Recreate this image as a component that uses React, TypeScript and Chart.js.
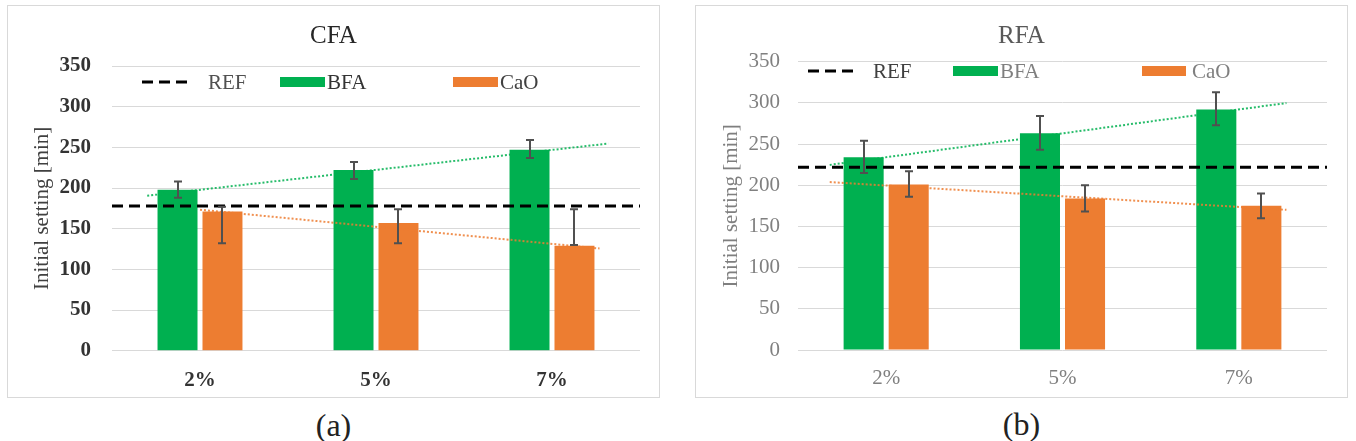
import React, { useEffect, useRef } from "react";
import { Chart, registerables } from "chart.js";

Chart.register(...registerables);

// ---------- data ----------
const categories = ["2%", "5%", "7%"];
const yTickMin = 0;
const yTickMax = 350;
const yTickStep = 50;

const cfaTitle = "CFA";
const cfaREF = 178;
const cfaBFA = [198, 222, 247];
const cfaBFALow = [188, 211, 237];
const cfaBFAHigh = [208, 232, 259];
const cfaCaO = [171, 157, 129];
const cfaCaOLow = [132, 132, 130];
const cfaCaOHigh = [177, 174, 174];

const rfaTitle = "RFA";
const rfaREF = 222;
const rfaBFA = [234, 263, 292];
const rfaBFALow = [215, 243, 273];
const rfaBFAHigh = [254, 284, 313];
const rfaCaO = [201, 184, 175];
const rfaCaOLow = [186, 168, 160];
const rfaCaOHigh = [217, 200, 190];

const legendLabels = ["REF", "BFA", "CaO"];
const yTitle = "Initial setting [min]";

// ---------- style ----------
const SERIF = "'Liberation Serif', 'Times New Roman', serif";
const GREEN = "#00B050";
const ORANGE = "#ED7D31";

type PanelCfg = {
  title: string;
  ref: number;
  bfa: number[];
  bfaLow: number[];
  bfaHigh: number[];
  cao: number[];
  caoLow: number[];
  caoHigh: number[];
  tickColor: string;
  tickWeight: string;
  titleColor: string;
  yTitleColor: string;
  legendColors: string[];
  plotLeft: number;
  plotRight: number;
  plotTop: number;
  plotBottom: number;
  tickPad: number;
  xTickPad: number;
  yTitlePad: number;
  titleY: number;
  legendY: number;
  legendRef: [number, number];
  refTextX: number;
  bfaBox: [number, number];
  bfaTextX: number;
  caoBox: [number, number];
  caoTextX: number;
  trendBFA: [number, number];
  trendCaO: [number, number];
};

const W = 651;
const H = 391;

function makeOverlay(cfg: PanelCfg) {
  return {
    id: "overlay",
    afterDatasetsDraw(chart: any) {
      const ctx: CanvasRenderingContext2D = chart.ctx;
      const xs = chart.scales.x;
      const ys = chart.scales.y;
      const area = chart.chartArea;
      ctx.save();

      // trendlines (least squares over the series values)
      const trends: [number[], [number, number], string][] = [
        [cfg.bfa, cfg.trendBFA, "rgba(0,176,80,0.85)"],
        [cfg.cao, cfg.trendCaO, "rgba(237,125,49,0.85)"],
      ];
      trends.forEach(([vals, range, color]) => {
        const n = vals.length;
        const mx = (n - 1) / 2;
        const my = vals.reduce((s, v) => s + v, 0) / n;
        let sxy = 0;
        let sxx = 0;
        vals.forEach((v, i) => {
          sxy += (i - mx) * (v - my);
          sxx += (i - mx) * (i - mx);
        });
        const b = sxy / sxx;
        const a = my - b * mx;
        const c0 = xs.getPixelForValue(0);
        const cw = xs.getPixelForValue(1) - c0;
        ctx.beginPath();
        ctx.setLineDash([2, 2]);
        ctx.lineWidth = 2;
        ctx.strokeStyle = color;
        ctx.moveTo(c0 + range[0] * cw, ys.getPixelForValue(a + b * range[0]));
        ctx.lineTo(c0 + range[1] * cw, ys.getPixelForValue(a + b * range[1]));
        ctx.stroke();
      });

      // REF line
      const yr = ys.getPixelForValue(cfg.ref);
      ctx.beginPath();
      ctx.setLineDash([11, 6]);
      ctx.lineWidth = 3;
      ctx.strokeStyle = "#000";
      ctx.moveTo(area.left, yr);
      ctx.lineTo(area.right, yr);
      ctx.stroke();

      // error bars
      ctx.setLineDash([]);
      ctx.strokeStyle = "#505050";
      ctx.lineWidth = 2;
      const errs: [number[], number[]][] = [
        [cfg.bfaLow, cfg.bfaHigh],
        [cfg.caoLow, cfg.caoHigh],
      ];
      errs.forEach(([lo, hi], di) => {
        const meta = chart.getDatasetMeta(di);
        meta.data.forEach((bar: any, i: number) => {
          const x = Math.round(bar.x);
          const y1 = ys.getPixelForValue(lo[i]);
          const y2 = ys.getPixelForValue(hi[i]);
          ctx.beginPath();
          ctx.moveTo(x, y1);
          ctx.lineTo(x, y2);
          ctx.moveTo(x - 4, y1);
          ctx.lineTo(x + 4, y1);
          ctx.moveTo(x - 4, y2);
          ctx.lineTo(x + 4, y2);
          ctx.stroke();
        });
      });
      ctx.restore();
    },
    afterDraw(chart: any) {
      const ctx: CanvasRenderingContext2D = chart.ctx;
      ctx.save();
      // title
      ctx.fillStyle = cfg.titleColor;
      ctx.font = `25px ${SERIF}`;
      ctx.textAlign = "center";
      ctx.textBaseline = "middle";
      ctx.fillText(cfg.title, W / 2, cfg.titleY);

      // legend
      const ly = cfg.legendY;
      ctx.beginPath();
      ctx.setLineDash([11, 6]);
      ctx.lineWidth = 3;
      ctx.strokeStyle = "#000";
      ctx.moveTo(cfg.legendRef[0], ly);
      ctx.lineTo(cfg.legendRef[1], ly);
      ctx.stroke();
      ctx.setLineDash([]);
      ctx.fillStyle = GREEN;
      ctx.fillRect(cfg.bfaBox[0], ly - 5, cfg.bfaBox[1] - cfg.bfaBox[0], 10);
      ctx.fillStyle = ORANGE;
      ctx.fillRect(cfg.caoBox[0], ly - 5, cfg.caoBox[1] - cfg.caoBox[0], 10);
      ctx.font = `21px ${SERIF}`;
      ctx.textAlign = "left";
      ctx.textBaseline = "middle";
      ctx.fillStyle = cfg.legendColors[0];
      ctx.fillText(legendLabels[0], cfg.refTextX, ly + 1);
      ctx.fillStyle = cfg.legendColors[1];
      ctx.fillText(legendLabels[1], cfg.bfaTextX, ly + 1);
      ctx.fillStyle = cfg.legendColors[2];
      ctx.fillText(legendLabels[2], cfg.caoTextX, ly + 1);
      ctx.restore();
    },
  };
}

function Panel({ cfg, left }: { cfg: PanelCfg; left: number }) {
  const ref = useRef<HTMLCanvasElement>(null);
  useEffect(() => {
    const chart = new Chart(ref.current as HTMLCanvasElement, {
      type: "bar",
      data: {
        labels: categories,
        datasets: [
          {
            label: legendLabels[1],
            data: cfg.bfa,
            backgroundColor: GREEN,
            barPercentage: 0.889,
            categoryPercentage: 0.511,
          },
          {
            label: legendLabels[2],
            data: cfg.cao,
            backgroundColor: ORANGE,
            barPercentage: 0.889,
            categoryPercentage: 0.511,
          },
        ],
      },
      options: {
        responsive: false,
        animation: false,
        devicePixelRatio: 1,
        layout: {
          padding: {
            left: 0,
            right: W - cfg.plotRight,
            top: cfg.plotTop,
            bottom: 0,
          },
        },
        plugins: {
          legend: { display: false },
          title: { display: false },
          tooltip: { enabled: false },
        },
        scales: {
          x: {
            type: "category",
            grid: { display: false },
            border: { display: false },
            ticks: {
              color: cfg.tickColor,
              font: { family: SERIF, size: 21, weight: cfg.tickWeight as any },
              padding: cfg.xTickPad,
            },
            afterFit: (s: any) => {
              s.height = H - cfg.plotBottom;
            },
          },
          y: {
            min: yTickMin,
            max: yTickMax,
            ticks: {
              stepSize: yTickStep,
              color: cfg.tickColor,
              font: { family: SERIF, size: 21, weight: cfg.tickWeight as any },
              padding: cfg.tickPad,
            },
            grid: {
              color: "#d9d9d9",
              lineWidth: 1,
              drawTicks: false,
            },
            border: { display: false },
            title: {
              display: true,
              text: yTitle,
              color: cfg.yTitleColor,
              font: { family: SERIF, size: 21 },
              padding: { top: cfg.yTitlePad, bottom: 0 },
            },
            afterFit: (s: any) => {
              s.width = cfg.plotLeft;
            },
          },
        },
      },
      plugins: [makeOverlay(cfg)],
    });
    return () => chart.destroy();
  }, []);
  return (
    <div
      style={{
        position: "absolute",
        left,
        top: 5,
        width: W + 2,
        height: H + 2,
        border: "1px solid #d9d9d9",
        boxSizing: "border-box",
        background: "#fff",
      }}
    >
      <canvas
        ref={ref}
        width={W}
        height={H}
        style={{ display: "block", width: W, height: H }}
      />
    </div>
  );
}

const cfaCfg: PanelCfg = {
  title: cfaTitle,
  ref: cfaREF,
  bfa: cfaBFA,
  bfaLow: cfaBFALow,
  bfaHigh: cfaBFAHigh,
  cao: cfaCaO,
  caoLow: cfaCaOLow,
  caoHigh: cfaCaOHigh,
  tickColor: "#333333",
  tickWeight: "bold",
  titleColor: "#262626",
  yTitleColor: "#404040",
  legendColors: ["#505050", "#333333", "#404040"],
  plotLeft: 104,
  plotRight: 632,
  plotTop: 60,
  plotBottom: 344.7,
  tickPad: 21,
  xTickPad: 9,
  yTitlePad: 22,
  titleY: 30,
  legendY: 76,
  legendRef: [134, 179],
  refTextX: 200,
  bfaBox: [272, 317],
  bfaTextX: 319,
  caoBox: [445, 490],
  caoTextX: 492,
  trendBFA: [-0.3, 2.32],
  trendCaO: [0.0, 2.27],
};

const rfaCfg: PanelCfg = {
  title: rfaTitle,
  ref: rfaREF,
  bfa: rfaBFA,
  bfaLow: rfaBFALow,
  bfaHigh: rfaBFAHigh,
  cao: rfaCaO,
  caoLow: rfaCaOLow,
  caoHigh: rfaCaOHigh,
  tickColor: "#808080",
  tickWeight: "normal",
  titleColor: "#595959",
  yTitleColor: "#7f7f7f",
  legendColors: ["#404040", "#7f7f7f", "#7f7f7f"],
  plotLeft: 102,
  plotRight: 631,
  plotTop: 55.7,
  plotBottom: 344,
  tickPad: 18,
  xTickPad: 8,
  yTitlePad: 23,
  titleY: 30,
  legendY: 65,
  legendRef: [112, 159],
  refTextX: 177,
  bfaBox: [257, 302],
  bfaTextX: 304,
  caoBox: [446, 490],
  caoTextX: 496,
  trendBFA: [-0.32, 2.27],
  trendCaO: [-0.32, 2.27],
};

export default function App() {
  return (
    <div
      style={{
        position: "fixed",
        left: 0,
        top: 0,
        width: 1356,
        height: 441,
        background: "#fff",
        overflow: "hidden",
      }}
    >
      <Panel cfg={cfaCfg} left={7} />
      <Panel cfg={rfaCfg} left={695} />
      <div
        style={{
          position: "absolute",
          left: 7,
          width: 653,
          top: 405,
          textAlign: "center",
          fontFamily: SERIF,
          fontSize: 32,
          lineHeight: "40px",
          color: "#222",
        }}
      >
        (a)
      </div>
      <div
        style={{
          position: "absolute",
          left: 695,
          width: 653,
          top: 404,
          textAlign: "center",
          fontFamily: SERIF,
          fontSize: 32,
          lineHeight: "40px",
          color: "#222",
        }}
      >
        (b)
      </div>
    </div>
  );
}
